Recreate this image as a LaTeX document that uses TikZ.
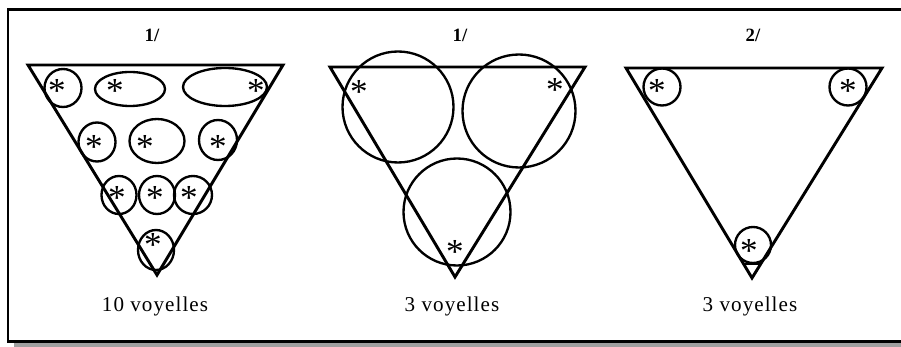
\documentclass[tikz,border=0pt]{standalone}
\usepackage{fontspec}
\setmainfont{Liberation Serif}
\usetikzlibrary{positioning}

\begin{document}
\begin{tikzpicture}[x=0.03cm,y=-0.03cm,
  tri/.style={line width=2.5pt,line join=miter},
  vow/.style={line width=2pt},
  ast/.style={inner sep=0pt,anchor=base,yshift=-14pt,font=\fontsize{30}{30}\selectfont},
  num/.style={inner sep=0pt,font=\bfseries\fontsize{16}{16}\selectfont},
  capt/.style={inner sep=0pt,anchor=base,font=\fontsize{18}{18}\selectfont\addfontfeature{LetterSpace=5}}]
\useasboundingbox (0,0) rectangle (901,347);
% frame with shadow
\fill[gray!75] (14,15) rectangle (912,352);
\draw[line width=2pt,fill=white] (8,9.5) rectangle (906,341.5);

% panel 1
\node[num] (n1) at (152,35) {1/};
\draw[tri] (28,65) -- (283,65) -- (157,275) -- cycle;
\draw[vow] (63,88) ellipse (18.5 and 19);
\draw[vow] (130,89) ellipse (35 and 17);
\draw[vow] (225,87) ellipse (42 and 19);
\draw[vow] (97,142) ellipse (18.5 and 19.5);
\draw[vow] (157,141) ellipse (27.5 and 22);
\draw[vow] (218,140) ellipse (19 and 20);
\draw[vow] (119,195) ellipse (17.5 and 19);
\draw[vow] (157,195) ellipse (18 and 19);
\draw[vow] (193,195) ellipse (19 and 19);
\draw[vow] (156,250) ellipse (18 and 20);
\node[ast] (a1) at (57,86) {*};
\node[ast] (a2) at (115,86) {*};
\node[ast] (a3) at (256,86) {*};
\node[ast] (a4) at (94,142) {*};
\node[ast] (a5) at (145,142) {*};
\node[ast] (a6) at (218,142) {*};
\node[ast] (a7) at (117,193) {*};
\node[ast] (a8) at (155,193) {*};
\node[ast] (a9) at (189,193) {*};
\node[ast] (a10) at (153,240) {*};
\node[capt] (c1) at (155,311) {10 voyelles};

% panel 2
\node[num] (n2) at (460,35) {1/};
\draw[tri] (330,67) -- (585,67) -- (455,277) -- cycle;
\draw[vow] (398,107) circle (55.5);
\draw[vow] (519,111) circle (56.5);
\draw[vow] (457,212) circle (53.5);
\node[ast] (b1) at (359,87) {*};
\node[ast] (b2) at (555,85) {*};
\node[ast] (b3) at (455,247) {*};
\node[capt] (c2) at (452,311) {3 voyelles};

% panel 3
\node[num] (n3) at (753,35) {2/};
\draw[tri] (626,68) -- (882,68) -- (752,278) -- cycle;
\draw[vow] (662,87) circle (18.5);
\draw[vow] (848,87) circle (18.5);
\draw[vow] (753,245) circle (18);
\draw[vow] (743,264) -- (761,264);
\node[ast] (d1) at (657,86) {*};
\node[ast] (d2) at (848,86) {*};
\node[ast] (d3) at (749,246) {*};
\node[capt] (c3) at (750,311) {3 voyelles};
\end{tikzpicture}
\end{document}
